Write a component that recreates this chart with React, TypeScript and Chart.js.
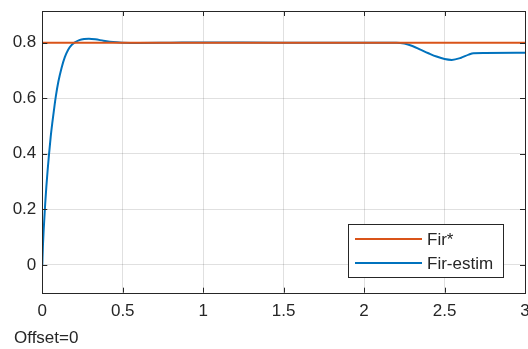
import React, { useEffect, useRef } from "react";
import { Chart, registerables } from "chart.js";

Chart.register(...registerables);

// time axis (s)
const timeS = [0, 0.004, 0.008, 0.013, 0.018, 0.025, 0.033, 0.042, 0.052, 0.062, 0.073, 0.085, 0.1, 0.12, 0.14, 0.16, 0.18, 0.2, 0.23, 0.26, 0.29, 0.33, 0.38, 0.44, 0.5, 0.6, 0.8, 1.0, 1.5, 2.0, 2.2, 2.25, 2.3, 2.35, 2.4, 2.45, 2.5, 2.545, 2.6, 2.65, 2.68, 2.75, 3.0];
// estimated flux
const firEstim = [0, 0.07, 0.12, 0.17, 0.22, 0.28, 0.34, 0.4, 0.46, 0.51, 0.56, 0.61, 0.66, 0.71, 0.748, 0.774, 0.79, 0.8, 0.809, 0.813, 0.814, 0.812, 0.807, 0.802, 0.8, 0.799, 0.8, 0.801, 0.8, 0.8, 0.8, 0.797, 0.788, 0.775, 0.762, 0.75, 0.741, 0.738, 0.745, 0.757, 0.762, 0.763, 0.764];
// reference flux
const firStarTime = [0, 3];
const firStar = [0.8, 0.8];

const xTicks = [0, 0.5, 1, 1.5, 2, 2.5, 3];
const yTicks = [0, 0.2, 0.4, 0.6, 0.8];
const seriesLabels = ["Fir*", "Fir-estim"];
const footnote = "Offset=0";

const ORANGE = "#D95319";
const BLUE = "#0072BD";
const AXIS = "#262626";
const FONT = "'Liberation Sans', Arial, sans-serif";

const decorPlugin = {
  id: "decor",
  afterDatasetsDraw(chart: any) {
    const { ctx, chartArea: a, scales } = chart;
    const xs = scales.x;
    const ys = scales.y;
    ctx.save();
    ctx.strokeStyle = AXIS;
    ctx.lineWidth = 1;
    ctx.strokeRect(Math.round(a.left) + 0.5, Math.round(a.top) + 0.5, Math.round(a.right - a.left), Math.round(a.bottom - a.top));
    const tl = 5;
    ctx.beginPath();
    xTicks.forEach((v) => {
      const px = Math.round(xs.getPixelForValue(v)) + 0.5;
      ctx.moveTo(px, a.bottom);
      ctx.lineTo(px, a.bottom - tl);
      ctx.moveTo(px, a.top);
      ctx.lineTo(px, a.top + tl);
    });
    yTicks.forEach((v) => {
      const py = Math.round(ys.getPixelForValue(v)) + 0.5;
      ctx.moveTo(a.left, py);
      ctx.lineTo(a.left + tl, py);
      ctx.moveTo(a.right, py);
      ctx.lineTo(a.right - tl, py);
    });
    ctx.stroke();

    // legend
    const lx = 348.5, ly = 224.5, lw = 155, lh = 53;
    ctx.fillStyle = "#ffffff";
    ctx.fillRect(lx, ly, lw, lh);
    ctx.strokeStyle = AXIS;
    ctx.strokeRect(lx, ly, lw, lh);
    const rows = [239, 263];
    chart.data.datasets.forEach((ds: any, i: number) => {
      ctx.strokeStyle = ds.borderColor;
      ctx.lineWidth = 2;
      ctx.beginPath();
      ctx.moveTo(355, rows[i]);
      ctx.lineTo(422, rows[i]);
      ctx.stroke();
      ctx.fillStyle = AXIS;
      ctx.font = `17px ${FONT}`;
      ctx.textBaseline = "middle";
      ctx.textAlign = "left";
      ctx.fillText(ds.label, 427, rows[i] + 1);
    });

    ctx.fillStyle = AXIS;
    ctx.font = `17px ${FONT}`;
    ctx.textBaseline = "middle";
    ctx.textAlign = "left";
    ctx.fillText(footnote, 14, 338);
    ctx.restore();
  },
};

export default function App() {
  const ref = useRef<HTMLCanvasElement | null>(null);
  useEffect(() => {
    document.body.style.margin = "0";
    if (!ref.current) return;
    const chart = new Chart(ref.current, {
      type: "line",
      data: {
        datasets: [
          {
            label: seriesLabels[0],
            data: firStarTime.map((t, i) => ({ x: t, y: firStar[i] })),
            borderColor: ORANGE,
            borderWidth: 2,
            pointRadius: 0,
            order: 0,
          },
          {
            label: seriesLabels[1],
            data: timeS.map((t, i) => ({ x: t, y: firEstim[i] })),
            borderColor: BLUE,
            borderWidth: 2,
            pointRadius: 0,
            cubicInterpolationMode: "monotone",
            order: 1,
          },
        ],
      },
      options: {
        animation: false,
        responsive: false,
        layout: { padding: { top: 11, right: 3, left: 0, bottom: 0 } },
        plugins: { legend: { display: false }, tooltip: { enabled: false } },
        scales: {
          x: {
            type: "linear",
            min: 0,
            max: 3,
            afterBuildTicks: (s: any) => {
              s.ticks = xTicks.map((v) => ({ value: v }));
            },
            afterFit: (s: any) => {
              s.height = 56.3;
              s.paddingLeft = 0;
              s.paddingRight = 0;
            },
            grid: { color: "rgba(0,0,0,0.12)", drawTicks: false },
            border: { display: false },
            ticks: {
              color: AXIS,
              font: { family: FONT, size: 17 },
              padding: 8,
              maxRotation: 0,
              callback: (v: any) => String(v),
            },
          },
          y: {
            type: "linear",
            min: -0.1,
            max: 0.914,
            afterBuildTicks: (s: any) => {
              s.ticks = yTicks.map((v) => ({ value: v }));
            },
            afterFit: (s: any) => {
              s.width = 42.3;
              s.paddingTop = 0;
              s.paddingBottom = 0;
            },
            grid: { color: "rgba(0,0,0,0.12)", drawTicks: false },
            border: { display: false },
            ticks: {
              color: AXIS,
              font: { family: FONT, size: 17 },
              padding: 6,
              callback: (v: any) => (v === 0 ? "0" : Number(v).toFixed(1)),
            },
          },
        },
      },
      plugins: [decorPlugin],
    } as any);
    return () => chart.destroy();
  }, []);
  return (
    <div style={{ width: 528, height: 349 }}>
      <canvas ref={ref} width={528} height={349} style={{ display: "block" }} />
    </div>
  );
}
